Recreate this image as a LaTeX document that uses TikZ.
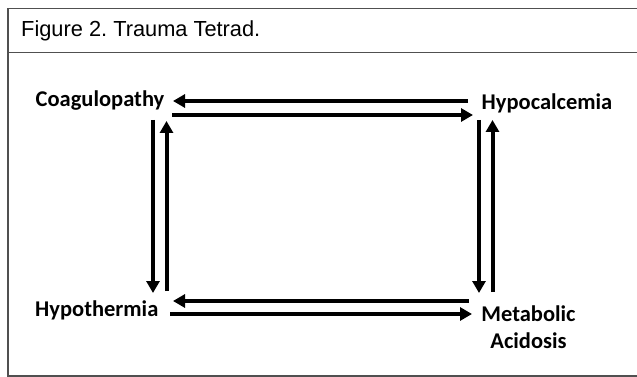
\documentclass[tikz,border=0pt]{standalone}
\usepackage{fontspec}
\setmainfont{Liberation Sans}
\newfontfamily\lblfont{Carlito}
\usetikzlibrary{arrows.meta}
\definecolor{framegray}{HTML}{505050}
\frenchspacing
\tikzset{
  frameline/.style={draw=framegray, line width=1.5pt},
  lbl/.style={font=\lblfont\bfseries\fontsize{22.5}{26.7}\selectfont, inner sep=0pt, anchor=base west},
  title/.style={font=\fontsize{21.8}{25}\selectfont, inner sep=0pt, anchor=base west},
  flow/.style={line width=4pt, -{Triangle[length=12pt,width=13pt]}, shorten >=0pt},
}
\begin{document}
\begin{tikzpicture}[x=1pt,y=-1pt]
\useasboundingbox (0,0) rectangle (637,377);
% frame
\draw[frameline] (637,8.7) -- (8,8.7) -- (8,376) -- (637,376);
\draw[frameline] (8,52.3) -- (637,52.3);
\node[title] (t) at (21,36.3) {Figure 2. Trauma Tetrad.};
% labels
\node[lbl] (coag) at (35.5,106.7) {Coagulopathy};
\node[lbl] (hypoc) at (481.5,110) {Hypocalcemia};
\node[lbl] (hypot) at (35,316.7) {Hypothermia};
\node[lbl, align=center, anchor=north] (meta) at (528.5,306) {Metabolic\\Acidosis};
% arrow end points
\coordinate (a1s) at (468,101);   \coordinate (a1e) at (173,101);
\coordinate (a2s) at (172,115);   \coordinate (a2e) at (473,115);
\coordinate (a3s) at (153,120);   \coordinate (a3e) at (153,293);
\coordinate (a4s) at (166.5,291); \coordinate (a4e) at (166.5,121);
\coordinate (a5s) at (469,301);   \coordinate (a5e) at (173,301);
\coordinate (a6s) at (170,314);   \coordinate (a6e) at (472,314);
\coordinate (a7s) at (479,120);   \coordinate (a7e) at (479,293);
\coordinate (a8s) at (492.5,292); \coordinate (a8e) at (492.5,120);
\draw[flow] (a1s) -- (a1e);
\draw[flow] (a2s) -- (a2e);
\draw[flow] (a3s) -- (a3e);
\draw[flow] (a4s) -- (a4e);
\draw[flow] (a5s) -- (a5e);
\draw[flow] (a6s) -- (a6e);
\draw[flow] (a7s) -- (a7e);
\draw[flow] (a8s) -- (a8e);
\end{tikzpicture}
\end{document}
